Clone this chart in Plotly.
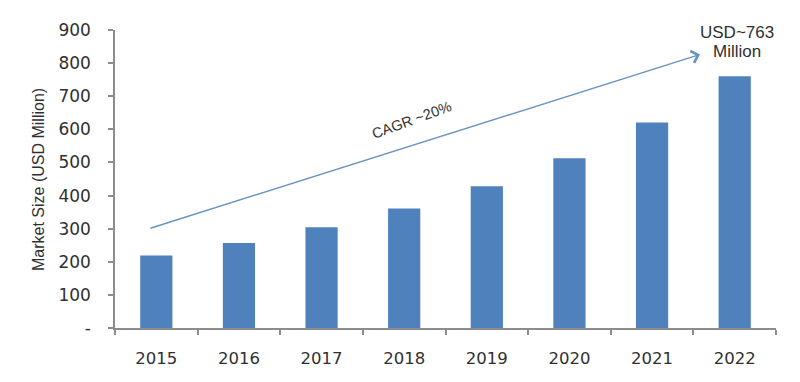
import plotly.graph_objects as go

years = ["2015", "2016", "2017", "2018", "2019", "2020", "2021", "2022"]
market_size = [219, 257, 304, 361, 428, 513, 621, 760]
y_tick_vals = [0, 100, 200, 300, 400, 500, 600, 700, 800, 900]
y_tick_text = ["-", "100", "200", "300", "400", "500", "600", "700", "800", "900"]
cagr_label = "CAGR ~20%"
end_label_1 = "USD~763"
end_label_2 = "Million"
y_title = "Market Size (USD Million)"

fig = go.Figure()
fig.add_trace(go.Bar(x=years, y=market_size, marker=dict(color="#4f81bd", line=dict(width=0)),
                     width=0.39))

axis_col = "#8c8c8c"
fig.update_layout(
    width=800, height=382,
    margin=dict(l=107, r=32, t=15, b=62),
    plot_bgcolor="white", paper_bgcolor="white",
    showlegend=False,
    font=dict(family="DejaVu Sans", color="#303030"),
)
fig.update_xaxes(
    type="category", range=[-0.5, 7.5],
    showline=True, linecolor=axis_col, linewidth=1.5,
    ticks="outside", tickson="boundaries", ticklen=5, tickcolor=axis_col, tickwidth=1.5,
    tickfont=dict(family="DejaVu Sans", size=16.5, color="#303030"),
    ticklabelstandoff=14,
    showgrid=False, zeroline=False,
)
fig.update_yaxes(
    range=[0, 900],
    tickvals=y_tick_vals, ticktext=y_tick_text,
    showline=True, linecolor=axis_col, linewidth=1.5,
    ticks="outside", ticklen=5, tickcolor=axis_col, tickwidth=1.5,
    tickfont=dict(family="DejaVu Sans", size=17, color="#303030"),
    ticklabelstandoff=14,
    showgrid=False, zeroline=False,
)

# y axis title
fig.add_annotation(text=y_title, xref="paper", yref="paper", x=-0.1165, y=0.5,
                   textangle=-90, showarrow=False, xanchor="center", yanchor="middle",
                   font=dict(family="Liberation Sans", size=16, color="#303030"))

# growth arrow
fig.add_annotation(x=6.58, y=826, ax=-0.09, ay=300, xref="x", yref="y", axref="x", ayref="y",
                   text="", showarrow=True, arrowhead=4, arrowsize=1.6, arrowwidth=1.5,
                   arrowcolor="#6b93bf", standoff=0)

fig.add_annotation(text=cagr_label, x=3.09, y=628, xref="x", yref="y", showarrow=False,
                   textangle=-20, font=dict(family="Liberation Sans", size=14.5, color="#303030"))

fig.add_annotation(text=end_label_1, x=7.03, y=891, xref="x", yref="y", showarrow=False,
                   font=dict(family="Liberation Sans", size=17, color="#303030"))
fig.add_annotation(text=end_label_2, x=7.03, y=836, xref="x", yref="y", showarrow=False,
                   font=dict(family="Liberation Sans", size=17, color="#303030"))

fig.write_html("out.html")
